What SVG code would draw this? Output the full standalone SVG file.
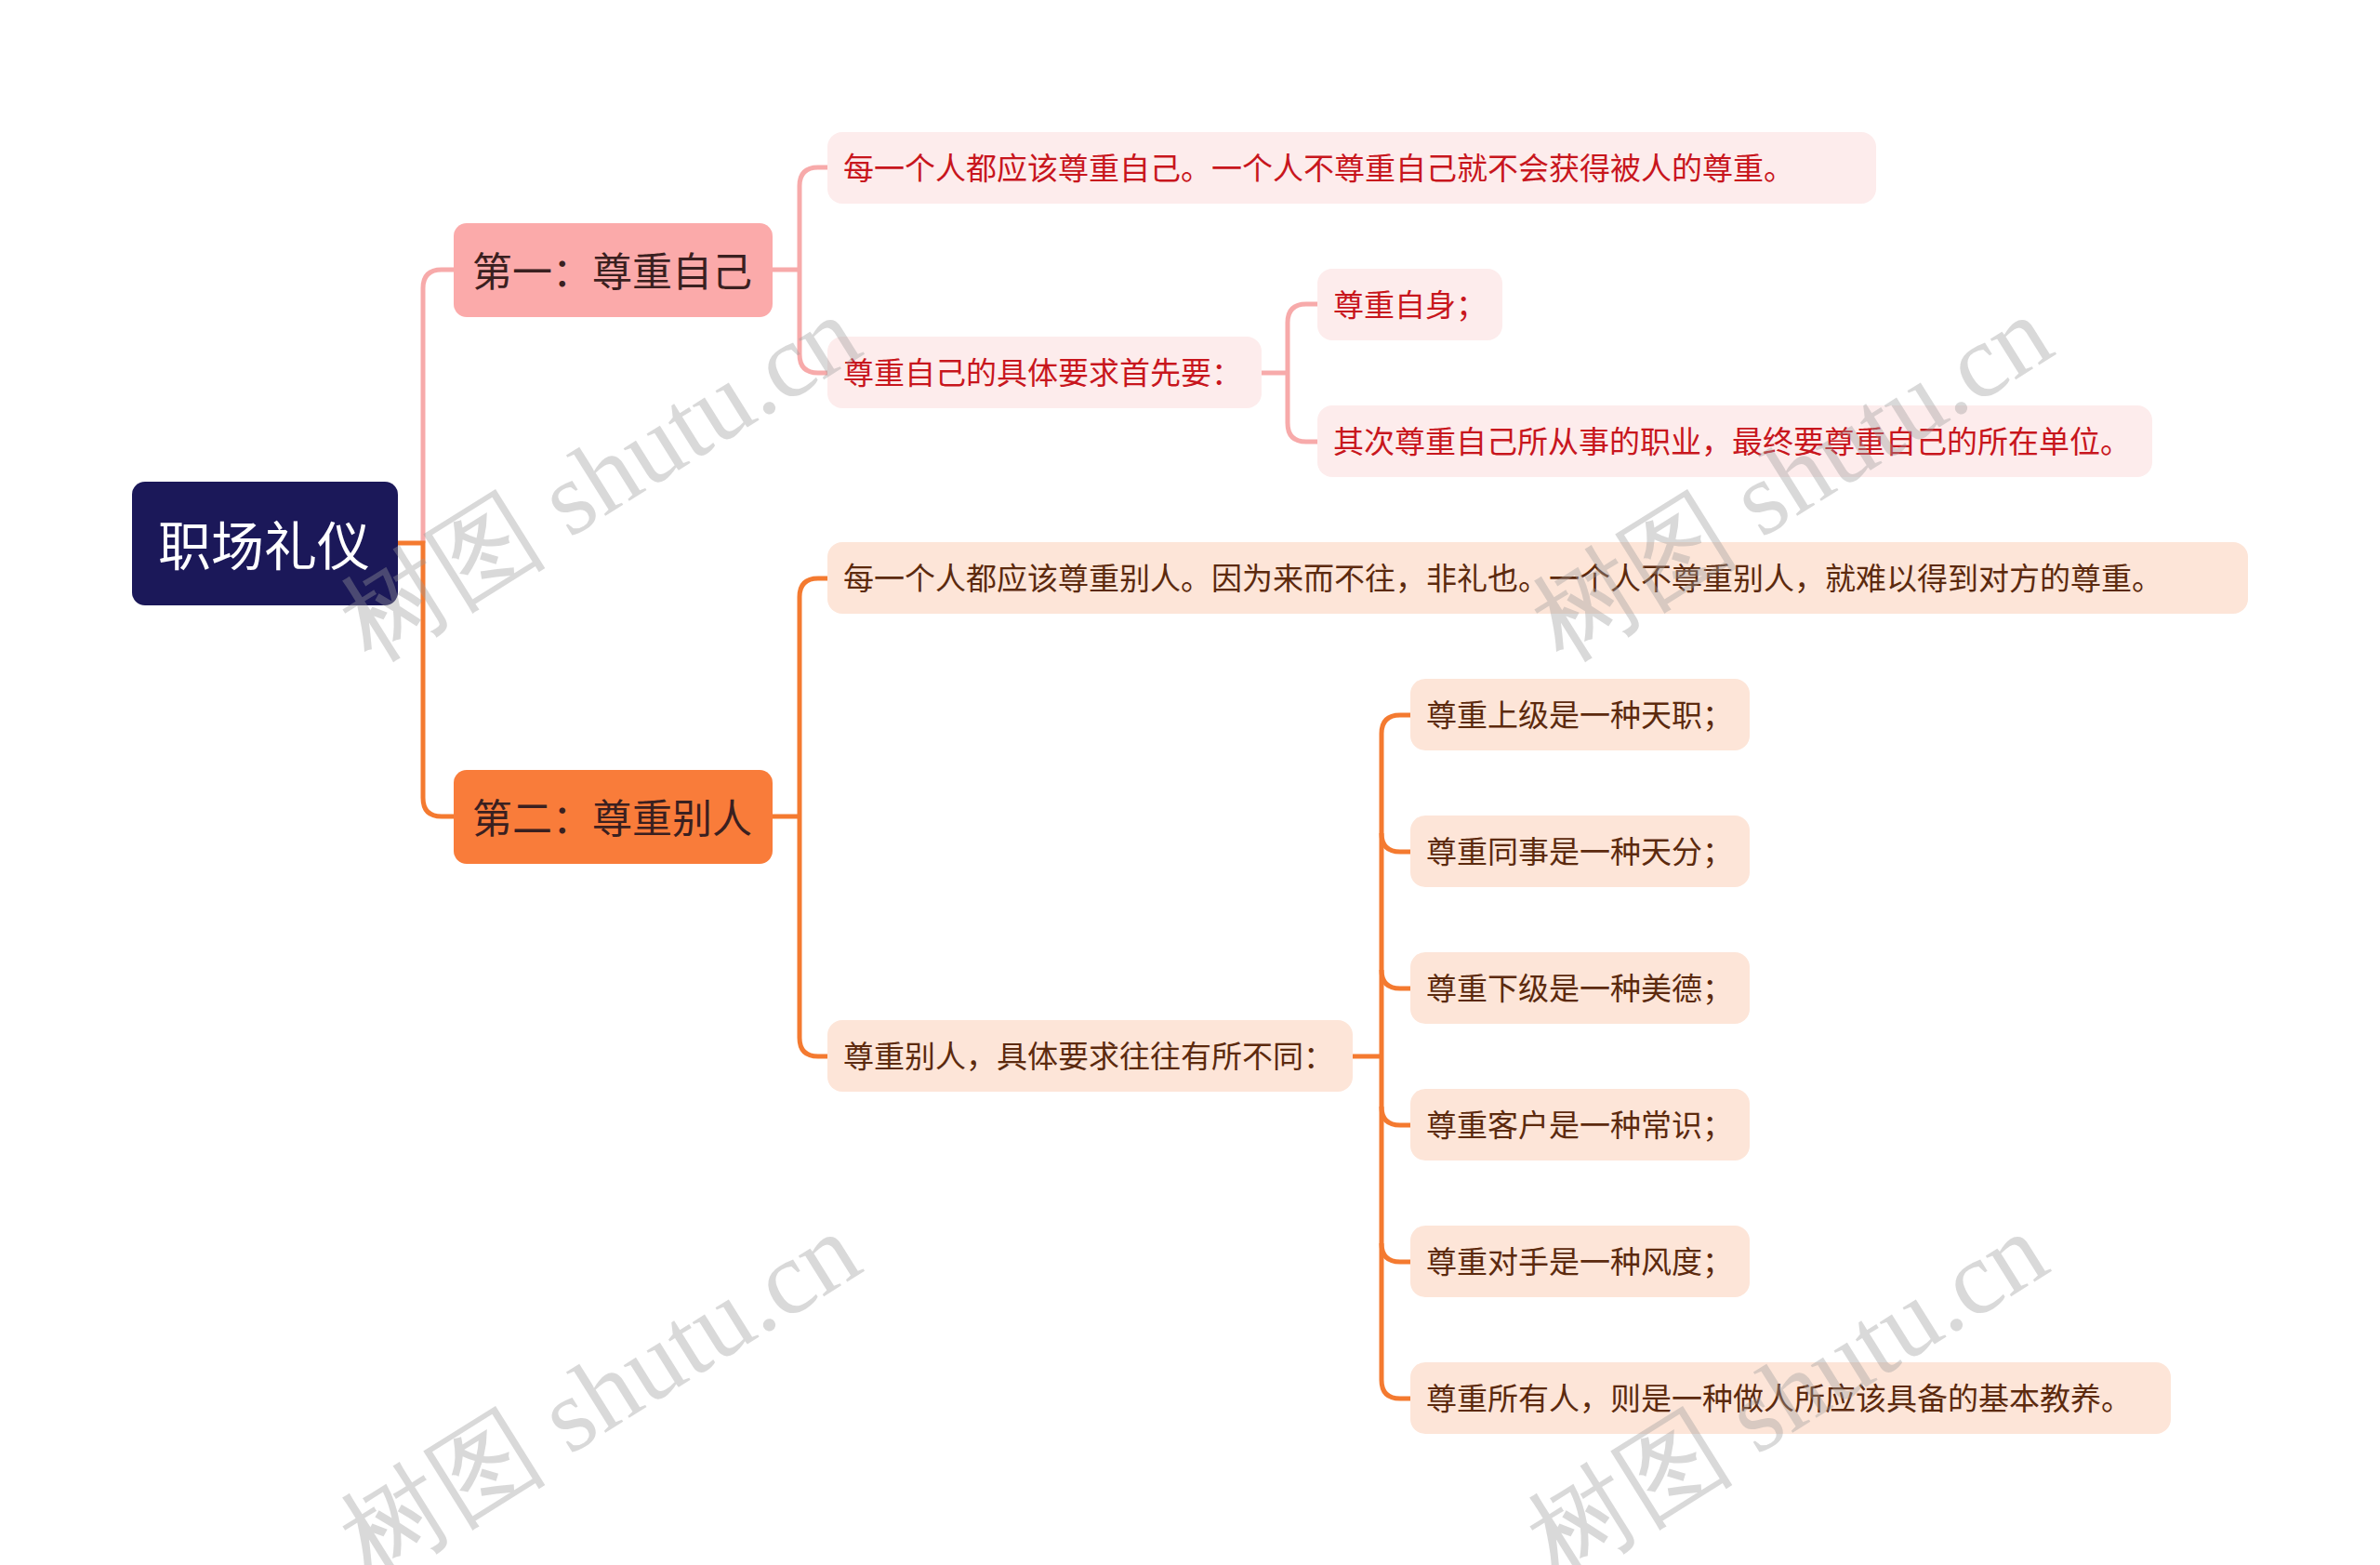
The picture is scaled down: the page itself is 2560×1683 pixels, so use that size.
<svg xmlns="http://www.w3.org/2000/svg" width="2560" height="1683" viewBox="0 0 2560 1683">
<style>
text{font-family:"Noto Sans CJK SC","Noto Sans",sans-serif;dominant-baseline:central}
.root{font-size:57px;fill:#ffffff}
.br{font-size:43px;fill:#3a2020}
.t1{font-size:33px;fill:#c8161d}
.t2{font-size:33px;fill:#5c2a0e}
.c1{fill:none;stroke:#f7aaaa;stroke-width:5}
.c2{fill:none;stroke:#f47a30;stroke-width:5}
.n1{fill:#fdecec}
.n2{fill:#fde5d8}
.wm{font-family:"Liberation Serif",serif;font-size:112px;fill:#9a9a9a;fill-opacity:0.38}
</style>
<rect width="2560" height="1683" fill="#ffffff"/>
<g id="connectors">
<path class="c1" d="M455,584 V310 Q455,290 475,290 H488"/>
<path class="c2" d="M428,584 H455 V858 Q455,878 475,878 H488"/>
<path class="c1" d="M831,290 H860"/>
<path class="c1" d="M890,180 H880 Q860,180 860,200 V381 Q860,401 880,401 H890"/>
<path class="c1" d="M1357,401 H1385"/>
<path class="c1" d="M1417,327 H1405 Q1385,327 1385,347 V455 Q1385,475 1405,475 H1417"/>
<path class="c2" d="M831,878 H860"/>
<path class="c2" d="M890,622 H880 Q860,622 860,642 V1116 Q860,1136 880,1136 H890"/>
<path class="c2" d="M1455,1136 H1486"/>
<path class="c2" d="M1517,769 H1506 Q1486,769 1486,789 V1484 Q1486,1504 1506,1504 H1517"/>
<path class="c2" d="M1486,896 Q1486,916 1506,916 H1517"/>
<path class="c2" d="M1486,1043 Q1486,1063 1506,1063 H1517"/>
<path class="c2" d="M1486,1190 Q1486,1210 1506,1210 H1517"/>
<path class="c2" d="M1486,1337 Q1486,1357 1506,1357 H1517"/>
</g>
<g id="root"><rect x="142" y="518" width="286" height="133" rx="14" fill="#1b1859"/><text class="root" x="170" y="583">职场礼仪</text></g>
<g id="b1"><rect x="488" y="240" width="343" height="101" rx="14" fill="#fbaaaa"/><text class="br" x="508" y="289">第一：尊重自己</text></g>
<g id="b2"><rect x="488" y="828" width="343" height="101" rx="14" fill="#f97c3a"/><text class="br" x="508" y="877">第二：尊重别人</text></g>
<g id="n11"><rect class="n1" x="890" y="142" width="1128" height="77" rx="16"/><text class="t1" x="907" y="179">每一个人都应该尊重自己。一个人不尊重自己就不会获得被人的尊重。</text></g>
<g id="n12"><rect class="n1" x="890" y="362" width="467" height="77" rx="16"/><text class="t1" x="907" y="399">尊重自己的具体要求首先要：</text></g>
<g id="n121"><rect class="n1" x="1417" y="289" width="199" height="77" rx="16"/><text class="t1" x="1434" y="326">尊重自身；</text></g>
<g id="n122"><rect class="n1" x="1417" y="436" width="898" height="77" rx="16"/><text class="t1" x="1434" y="473">其次尊重自己所从事的职业，最终要尊重自己的所在单位。</text></g>
<g id="n21"><rect class="n2" x="890" y="583" width="1528" height="77" rx="16"/><text class="t2" x="907" y="620">每一个人都应该尊重别人。因为来而不往，非礼也。一个人不尊重别人，就难以得到对方的尊重。</text></g>
<g id="n22"><rect class="n2" x="890" y="1097" width="565" height="77" rx="16"/><text class="t2" x="907" y="1134">尊重别人，具体要求往往有所不同：</text></g>
<g id="n221"><rect class="n2" x="1517" y="730" width="365" height="77" rx="16"/><text class="t2" x="1534" y="767">尊重上级是一种天职；</text></g>
<g id="n222"><rect class="n2" x="1517" y="877" width="365" height="77" rx="16"/><text class="t2" x="1534" y="914">尊重同事是一种天分；</text></g>
<g id="n223"><rect class="n2" x="1517" y="1024" width="365" height="77" rx="16"/><text class="t2" x="1534" y="1061">尊重下级是一种美德；</text></g>
<g id="n224"><rect class="n2" x="1517" y="1171" width="365" height="77" rx="16"/><text class="t2" x="1534" y="1208">尊重客户是一种常识；</text></g>
<g id="n225"><rect class="n2" x="1517" y="1318" width="365" height="77" rx="16"/><text class="t2" x="1534" y="1355">尊重对手是一种风度；</text></g>
<g id="n226"><rect class="n2" x="1517" y="1465" width="818" height="77" rx="16"/><text class="t2" x="1534" y="1502">尊重所有人，则是一种做人所应该具备的基本教养。</text></g>
<g id="watermarks">
<text class="wm" x="645" y="514" text-anchor="middle" transform="rotate(-32 645 514)">树图 shutu.cn</text>
<text class="wm" x="1927" y="514" text-anchor="middle" transform="rotate(-32 1927 514)">树图 shutu.cn</text>
<text class="wm" x="645" y="1500" text-anchor="middle" transform="rotate(-32 645 1500)">树图 shutu.cn</text>
<text class="wm" x="1922" y="1500" text-anchor="middle" transform="rotate(-32 1922 1500)">树图 shutu.cn</text>
</g>
</svg>
